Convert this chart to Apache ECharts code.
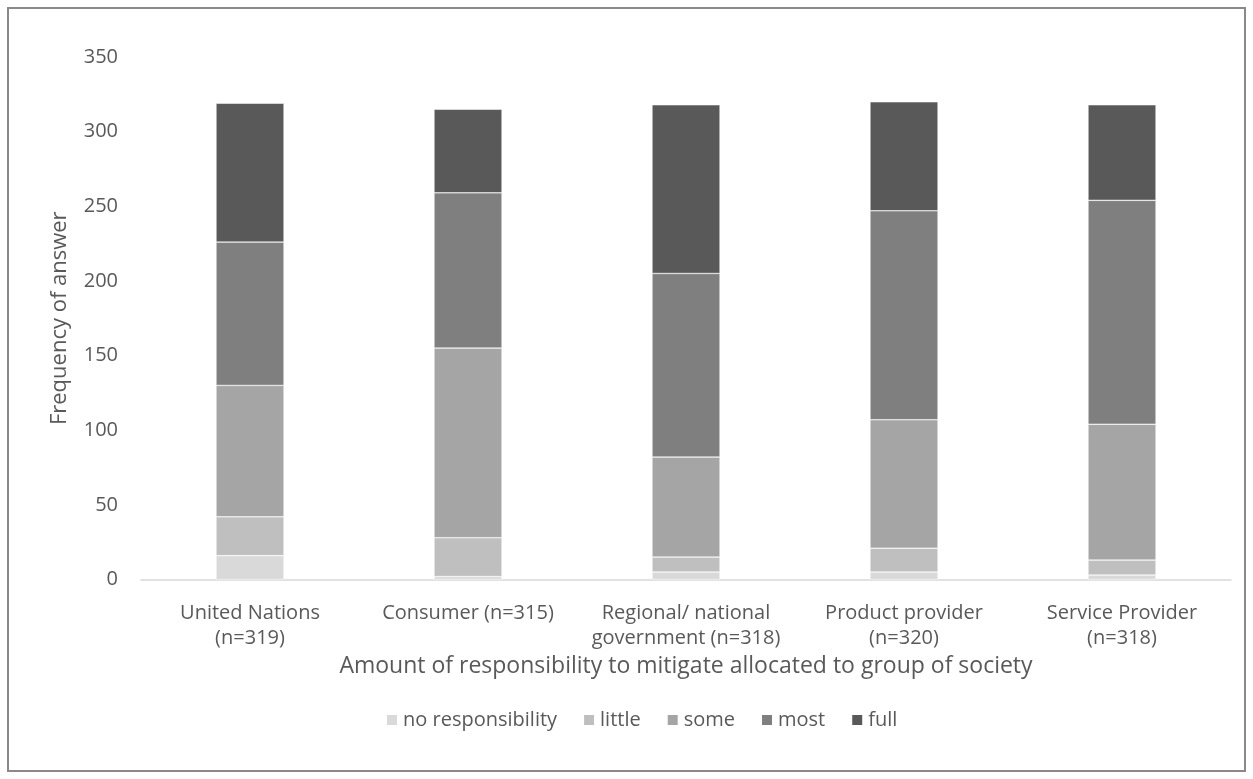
<!DOCTYPE html>
<html>
<head>
<meta charset="utf-8">
<script src="https://cdn.jsdelivr.net/npm/echarts@6/dist/echarts.min.js"></script>
<style>
  html, body { margin: 0; padding: 0; background: #fff; }
  #chart { width: 1253px; height: 779px; }
</style>
</head>
<body>
<div id="chart"></div>
<script>
// Groups of society asked about
const categories = [
  'United Nations\n(n=319)',
  'Consumer (n=315)',
  'Regional/ national\ngovernment (n=318)',
  'Product provider\n(n=320)',
  'Service Provider\n(n=318)'
];

// Frequency of each answer per group
const noResponsibility = [16, 2, 5, 5, 3];
const little = [26, 26, 10, 16, 10];
const some = [88, 127, 67, 86, 91];
const most = [96, 104, 123, 140, 150];
const full = [93, 56, 113, 73, 64];

const seriesNames = ['no responsibility', 'little', 'some', 'most', 'full'];
const seriesData = [noResponsibility, little, some, most, full];
const seriesColors = ['#d9d9d9', '#bfbfbf', '#a5a5a5', '#7f7f7f', '#595959'];

const FONT = '"Open Sans", sans-serif';
const TEXT = '#595959';

const chart = echarts.init(document.getElementById('chart'), null, { renderer: 'canvas' });

chart.setOption({
  animation: false,
  backgroundColor: '#ffffff',
  textStyle: { fontFamily: FONT },
  graphic: [{
    type: 'rect',
    shape: { x: 8, y: 8, width: 1237, height: 763 },
    style: { fill: 'none', stroke: '#898989', lineWidth: 2 },
    silent: true
  }],
  grid: { left: 141, right: 22, top: 57, bottom: 199.5 },
  legend: {
    bottom: 44,
    left: 380,
    itemWidth: 12,
    itemHeight: 12,
    itemGap: 25,
    icon: 'rect',
    textStyle: { color: TEXT, fontSize: 20, fontFamily: FONT },
    data: seriesNames
  },
  xAxis: {
    type: 'category',
    data: categories,
    name: 'Amount of responsibility to mitigate allocated to group of society',
    nameLocation: 'middle',
    nameGap: 75,
    nameTextStyle: { color: TEXT, fontSize: 23, fontFamily: FONT },
    axisLine: { lineStyle: { color: '#d9d9d9', width: 1.5 } },
    axisTick: { show: false },
    axisLabel: { color: TEXT, fontSize: 20, fontFamily: FONT, lineHeight: 25, margin: 21, interval: 0 }
  },
  yAxis: {
    type: 'value',
    min: 0,
    max: 350,
    interval: 50,
    name: 'Frequency of answer',
    nameLocation: 'middle',
    nameGap: 70,
    nameTextStyle: { color: TEXT, fontSize: 22, fontFamily: FONT },
    axisLine: { show: false },
    axisTick: { show: false },
    splitLine: { show: false },
    axisLabel: { color: TEXT, fontSize: 20, fontFamily: FONT, margin: 23 }
  },
  series: seriesNames.map((name, i) => ({
    name: name,
    type: 'bar',
    stack: 'answers',
    barWidth: 68,
    data: seriesData[i],
    itemStyle: { color: seriesColors[i], borderColor: '#ffffff', borderWidth: 0.5 }
  }))
});
</script>
</body>
</html>
